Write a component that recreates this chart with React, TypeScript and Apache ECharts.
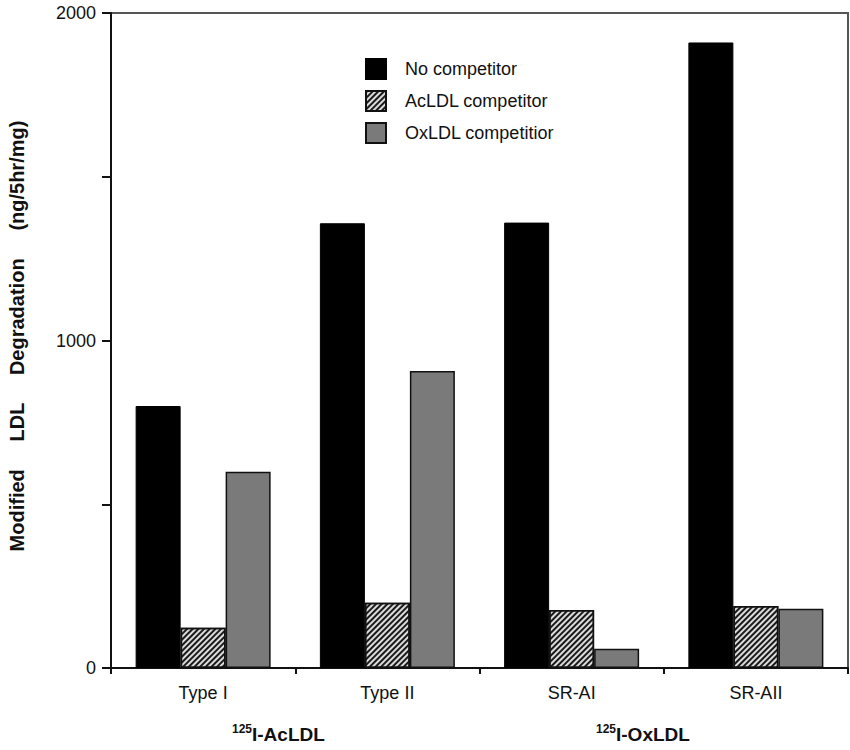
import React, { useEffect, useRef } from "react";
import * as echarts from "echarts";

const categories = ["Type I", "Type II", "SR-AI", "SR-AII"];
const seriesNames = ["No competitor", "AcLDL competitor", "OxLDL competitior"];
const noCompetitor = [800, 1358, 1360, 1910];
const acldlCompetitor = [123, 199, 177, 189];
const oxldlCompetitor = [599, 907, 59, 181];
const labeledTicks = [0, 1000, 2000];

const FONT = "'Liberation Sans', Arial, Helvetica, sans-serif";

export default function App() {
  const ref = useRef<HTMLDivElement>(null);
  useEffect(() => {
    if (!ref.current) return;
    const chart = echarts.init(ref.current, null, { renderer: "svg" });
    const hatchDecal = {
      symbol: "rect",
      symbolSize: 1,
      dashArrayX: [1, 0],
      dashArrayY: [2, 2],
      rotation: -Math.PI / 4,
      color: "#1a1a1a",
    };
    const richLabel = {
      s: { fontSize: 12, fontWeight: "bold", fontFamily: FONT, fill: "#111", verticalAlign: "top", lineHeight: 22 },
      b: { fontSize: 19, fontWeight: "bold", fontFamily: FONT, fill: "#111", lineHeight: 22 },
    };
    chart.setOption({
      animation: false,
      backgroundColor: "#fff",
      textStyle: { fontFamily: FONT },
      grid: {
        left: 111,
        right: 2,
        top: 13,
        bottom: 82,
        show: true,
        borderColor: "#555",
        borderWidth: 2,
        backgroundColor: "transparent",
      },
      legend: {
        orient: "vertical",
        left: 360,
        top: 53,
        icon: "rect",
        itemWidth: 20,
        itemHeight: 20,
        itemGap: 10,
        textStyle: { fontSize: 18, color: "#111", fontFamily: FONT, padding: [0, 0, 0, 14] },
        data: seriesNames,
      },
      xAxis: {
        type: "category",
        data: categories,
        axisLine: { lineStyle: { color: "#111", width: 2 } },
        axisTick: { show: true, length: 6, lineStyle: { color: "#111", width: 2 } },
        axisLabel: { fontSize: 18, color: "#111", margin: 16, fontFamily: FONT },
      },
      yAxis: {
        type: "value",
        min: 0,
        max: 2000,
        interval: 500,
        splitLine: { show: false },
        axisLine: { show: true, lineStyle: { color: "#111", width: 2 } },
        axisTick: { show: true, length: 9, lineStyle: { color: "#111", width: 2 } },
        axisLabel: {
          fontSize: 18,
          color: "#111",
          margin: 15,
          fontFamily: FONT,
          formatter: (v: number) => (labeledTicks.includes(v) ? String(v) : ""),
        },
      },
      series: [
        {
          name: seriesNames[0],
          type: "bar",
          data: noCompetitor,
          barWidth: 45,
          barGap: "0%",
          itemStyle: { color: "#000", borderColor: "#000", borderWidth: 1 },
        },
        {
          name: seriesNames[1],
          type: "bar",
          data: acldlCompetitor,
          barWidth: 45,
          barGap: "0%",
          itemStyle: { color: "#dcdcdc", borderColor: "#111", borderWidth: 1.5, decal: hatchDecal },
        },
        {
          name: seriesNames[2],
          type: "bar",
          data: oxldlCompetitor,
          barWidth: 45,
          barGap: "0%",
          itemStyle: { color: "#7a7a7a", borderColor: "#111", borderWidth: 1.5 },
        },
      ],
      graphic: [
        {
          type: "text",
          x: 17,
          y: 336,
          rotation: Math.PI / 2,
          style: {
            text: "Modified     LDL     Degradation     (ng/5hr/mg)",
            font: `bold 20px ${FONT}`,
            fill: "#111",
            align: "center",
            verticalAlign: "middle",
          },
        },
        {
          type: "text",
          left: 232,
          top: 723,
          style: { text: "{s|125}{b|I-AcLDL}", rich: richLabel },
        },
        {
          type: "text",
          left: 596,
          top: 723,
          style: { text: "{s|125}{b|I-OxLDL}", rich: richLabel },
        },
      ],
    });
    return () => chart.dispose();
  }, []);
  return <div ref={ref} style={{ position: "absolute", left: 0, top: 0, width: 850, height: 750 }} />;
}
